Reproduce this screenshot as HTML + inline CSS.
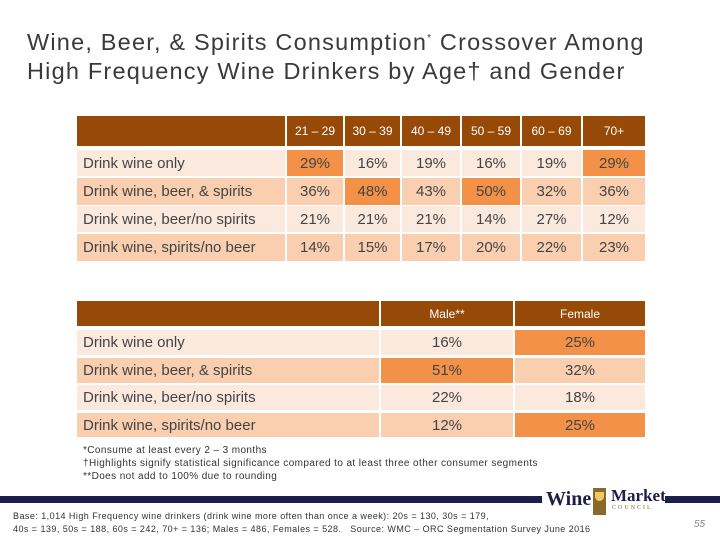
<!DOCTYPE html>
<html><head><meta charset="utf-8"><style>
body{margin:0;width:720px;height:540px;background:#fff;position:relative;overflow:hidden;font-family:"Liberation Sans",sans-serif;color:#333}
.abs{position:absolute}
.c{position:absolute;display:flex;align-items:center;justify-content:center;font-size:15px;color:#444}
.h{background:#974A08;color:#fff;font-size:12px}
.l{justify-content:flex-start;padding-left:6px;box-sizing:border-box}
.a{background:#FCE9DD}.b{background:#F9CFB0}.o{background:#F29147}
</style></head><body>
<div class="abs" style="left:27px;top:24px;font-size:23.5px;line-height:29px;color:#3a3a3a;letter-spacing:1.2px">Wine, Beer, &amp; Spirits Consumption<sup style="font-size:10px">*</sup> Crossover Among<br>High Frequency Wine Drinkers by Age† and Gender</div>
<div id="t1"></div>
<div id="t2"></div>
<div class="abs" style="left:83px;top:444px;font-size:10px;line-height:13px;color:#333;letter-spacing:0.4px">*Consume at least every 2 – 3 months<br>†Highlights signify statistical significance compared to at least three other consumer segments<br>**Does not add to 100% due to rounding</div>
<div class="abs" style="left:0;top:496px;width:542px;height:7px;background:#1c1f4a"></div>
<div class="abs" style="left:665px;top:496px;width:55px;height:7px;background:#1c1f4a"></div>
<div class="abs" style="left:546px;top:488px;font-family:'Liberation Serif',serif;font-weight:bold;font-size:20px;color:#1c1f4a">Wine</div>
<div class="abs" style="left:593px;top:488px;width:13px;height:27px;background:#8a6a2a"><div style="margin:4px 2px 0;height:9px;background:#f2c66a;border-radius:0 0 5px 5px"></div></div>
<div class="abs" style="left:611px;top:486px;font-family:'Liberation Serif',serif;font-weight:bold;font-size:17px;color:#1c1f4a">Market</div>
<div class="abs" style="left:612px;top:505px;font-family:'Liberation Serif',serif;font-size:6px;letter-spacing:2px;color:#8a6a2a">COUNCIL</div>
<div class="abs" style="left:13px;top:510px;font-size:9px;line-height:13px;color:#333;letter-spacing:0.45px">Base: 1,014 High Frequency wine drinkers (drink wine more often than once a week): 20s = 130, 30s = 179,<br>40s = 139, 50s = 188, 60s = 242, 70+ = 136; Males = 486, Females = 528.&nbsp;&nbsp; Source: WMC – ORC Segmentation Survey June 2016</div>
<div class="abs" style="left:694px;top:519px;font-size:10px;font-style:italic;color:#888">55</div>
<script>
const rows=["Drink wine only","Drink wine, beer, & spirits","Drink wine, beer/no spirits","Drink wine, spirits/no beer"];
const ages=["21 – 29","30 – 39","40 – 49","50 – 59","60 – 69","70+"];
const ageVals=[[29,16,19,16,19,29],[36,48,43,50,32,36],[21,21,21,14,27,12],[14,15,17,20,22,23]];
const ageHi=[[1,0,0,0,0,1],[0,1,0,1,0,0],[0,0,0,0,0,0],[0,0,0,0,0,0]];
const genders=["Male**","Female"];
const genVals=[[16,25],[51,32],[22,18],[12,25]];
const genHi=[[0,1],[1,0],[0,0],[0,1]];
function cell(p,x,y,w,h,cls,txt,name){const d=document.createElement('div');d.className='c '+cls;d.style.left=x+'px';d.style.top=y+'px';d.style.width=w+'px';d.style.height=h+'px';d.textContent=txt;


p.appendChild(d);}
const t1=document.getElementById('t1');
const cx=[287,345,402,462,522,583],cw=[56,55,58,58,59,62];
const ry=[150,178,206,234],rh=[26,27,26,27];
cell(t1,77,116,208,30,'h','','age-header-blank');
ages.forEach((a,i)=>cell(t1,cx[i],116,cw[i],30,'h',a,'age-header'));
rows.forEach((r,j)=>{const bg=j%2?'b':'a';cell(t1,77,ry[j],208,rh[j],'l '+bg,r,'row-label');
ageVals[j].forEach((v,i)=>cell(t1,cx[i],ry[j],cw[i],rh[j],ageHi[j][i]?'o':bg,v+'%','age-value'));});
const t2=document.getElementById('t2');
const gx=[381,515],gw=[132,130],gy=[330,358,385,413],gh=[25,25,25,24];
cell(t2,77,301,302,25,'h','','gender-header-blank');
genders.forEach((g,i)=>cell(t2,gx[i],301,gw[i],25,'h',g,'gender-header'));
rows.forEach((r,j)=>{const bg=j%2?'b':'a';cell(t2,77,gy[j],302,gh[j],'l '+bg,r,'row-label');
genVals[j].forEach((v,i)=>cell(t2,gx[i],gy[j],gw[i],gh[j],genHi[j][i]?'o':bg,v+'%','gender-value'));});
</script>
</body></html>
